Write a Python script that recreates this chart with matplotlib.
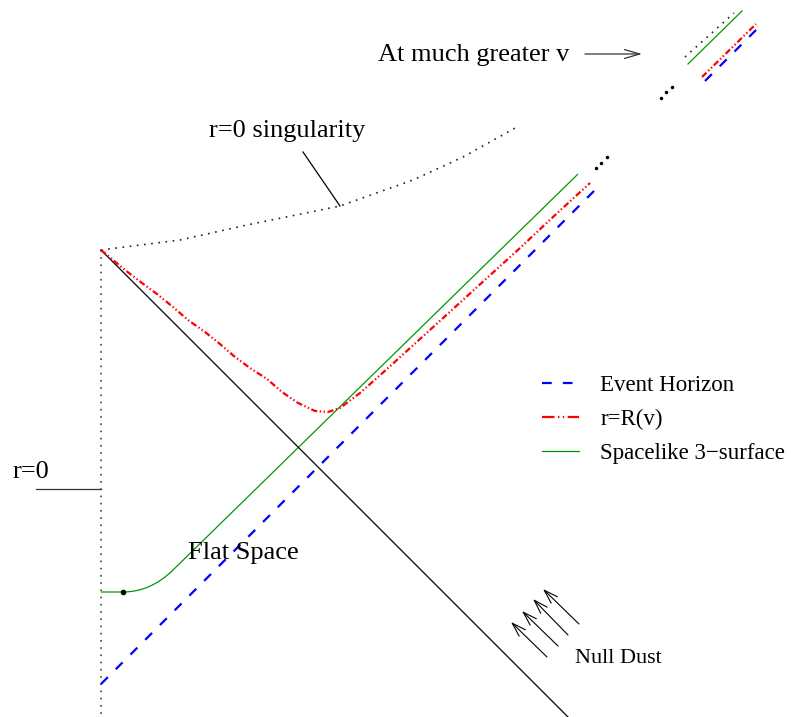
import matplotlib
matplotlib.use('Agg')
import matplotlib.pyplot as plt
from matplotlib.lines import Line2D
from matplotlib.patches import FancyArrowPatch, PathPatch
from matplotlib.path import Path

plt.rcParams['font.family'] = ['Liberation Serif', 'DejaVu Serif']
plt.rcParams['lines.scale_dashes'] = False

# ---------------- data (diagram coordinates, y grows downward) ----------------
# r = 0 (regular centre), vertical dotted line
center_x = [101, 101]
center_y = [250, 717]

# r = 0 singularity (dotted curve)
sing_x = [101, 180, 247, 340, 413, 463, 517]
sing_y = [250, 240, 225, 206, 180, 157, 127]

# ingoing null shell (solid black)
null_x = [101, 568]
null_y = [250, 717]

# event horizon (blue dashed)
horizon_x = [101, 597]
horizon_y = [684, 188]

# apparent horizon r = R(v) (red dash-dot-dot)
rv_x = [101, 125, 142, 157, 173, 188, 205, 220, 235, 250, 267, 282, 298, 315,
        328, 340, 360, 387, 420, 453, 487, 520, 553, 590]
rv_y = [250, 270, 283, 294, 307, 320, 332, 344, 357, 368, 379, 392, 403, 411,
        412, 408, 393, 369, 339, 309, 278, 248, 217, 183]

# spacelike 3-surface (green): flat part, bend, straight part
space_flat_x = [101, 123]
space_flat_y = [592, 592]
space_bend_ctrl = (150, 592)
space_bend_end = (172, 571)
space_end = (578, 174)
space_dot = (123, 592)

# "at much greater v" fragment
far_dot_x = [685, 734];  far_dot_y = [57, 13]
far_green_x = [688, 742]; far_green_y = [64, 11]
far_red_x = [702, 756];  far_red_y = [77, 24]
far_blue_x = [705, 758]; far_blue_y = [81, 28]
ellipsis1_x = [596, 601, 607]; ellipsis1_y = [168, 163, 157]
ellipsis2_x = [661, 666, 672]; ellipsis2_y = [98, 92, 87]

# null dust arrows (tail -> head)
dust_tail_x = [547, 558, 568, 579]
dust_tail_y = [657, 646, 635, 624]
dust_head_x = [511, 522, 533, 543]
dust_head_y = [622, 611, 599, 589]

legend_labels = ['Event Horizon', 'r=R(v)', 'Spacelike 3\u2212surface']

# ---------------- styles ----------------
BLUE = '#0000ff'
RED = '#ff0000'
GREEN = '#009900'
DOT = (0, (1.2, 4.0))
BLUE_DASH = (0, (7.0, 8.0))
RED_DASH = (0, (4.5, 1.8, 1.0, 1.8, 1.0, 1.8))

W, H = 791, 717
fig = plt.figure(figsize=(W / 100, H / 100), dpi=100)
ax = fig.add_axes([0, 0, 1, 1])
ax.set_xlim(0, W)
ax.set_ylim(H, 0)
ax.axis('off')

ax.plot(center_x, center_y, color='#555555', lw=1.3, ls=DOT)
ax.plot(sing_x, sing_y, color='#222222', lw=1.2, ls=DOT)
ax.plot(null_x, null_y, color='black', lw=0.9)
ax.plot(horizon_x, horizon_y, color=BLUE, lw=1.6, ls=BLUE_DASH)
ax.plot(rv_x, rv_y, color=RED, lw=1.6, ls=RED_DASH)

verts = [(space_flat_x[0], space_flat_y[0]), (space_flat_x[1], space_flat_y[1]),
         space_bend_ctrl, space_bend_end, space_end]
codes = [Path.MOVETO, Path.LINETO, Path.CURVE3, Path.CURVE3, Path.LINETO]
ax.add_patch(PathPatch(Path(verts, codes), fill=False, edgecolor=GREEN, lw=0.9))
ax.plot([space_dot[0]], [space_dot[1]], 'o', color='black', ms=3)

# far fragment
ax.plot(far_dot_x, far_dot_y, color='#222222', lw=1.2, ls=DOT)
ax.plot(far_green_x, far_green_y, color=GREEN, lw=0.9)
ax.plot(far_red_x, far_red_y, color=RED, lw=1.6, ls=RED_DASH)
ax.plot(far_blue_x, far_blue_y, color=BLUE, lw=1.6, ls=BLUE_DASH)
ax.plot(ellipsis1_x, ellipsis1_y, 'o', color='black', ms=1.5, lw=0)
ax.plot(ellipsis2_x, ellipsis2_y, 'o', color='black', ms=1.5, lw=0)

# leader lines
ax.plot([36, 101], [489, 489], color='#333333', lw=0.9)
ax.plot([303, 340], [152, 206], color='black', lw=0.9)

# arrows
ax.add_patch(FancyArrowPatch((585, 54), (642, 54),
                             arrowstyle='->,head_length=0.55,head_width=0.16',
                             mutation_scale=20, color='#333333', lw=0.9,
                             shrinkA=0, shrinkB=0))
for tx, ty, hx, hy in zip(dust_tail_x, dust_tail_y, dust_head_x, dust_head_y):
    ax.add_patch(FancyArrowPatch((tx, ty), (hx, hy),
                                 arrowstyle='->,head_length=0.5,head_width=0.16',
                                 mutation_scale=20, color='black', lw=0.8,
                                 shrinkA=0, shrinkB=0))

# texts
FS = 19
ax.text(378, 61, 'At much greater v', fontsize=FS, ha='left', va='baseline')
ax.text(209, 137, 'r=0 singularity', fontsize=FS, ha='left', va='baseline')
ax.text(13, 478, 'r=0', fontsize=FS, ha='left', va='baseline')
ax.text(188, 559, 'Flat Space', fontsize=FS, ha='left', va='baseline')
ax.text(575, 663, 'Null Dust', fontsize=16, ha='left', va='baseline')

handles = [Line2D([], [], color=BLUE, lw=1.6, ls=(0, (7.0, 8.0))),
           Line2D([], [], color=RED, lw=1.6, ls=(0, (9, 2.5, 1, 2.5, 1, 2.5))),
           Line2D([], [], color=GREEN, lw=0.9)]
ax.legend(handles, legend_labels, loc='upper left', bbox_to_anchor=(542, 375),
          bbox_transform=ax.transData, frameon=False, fontsize=16.5,
          handlelength=1.6, handletextpad=0.95, labelspacing=0.56,
          borderpad=0, borderaxespad=0)

fig.savefig('out.png', dpi=100)
